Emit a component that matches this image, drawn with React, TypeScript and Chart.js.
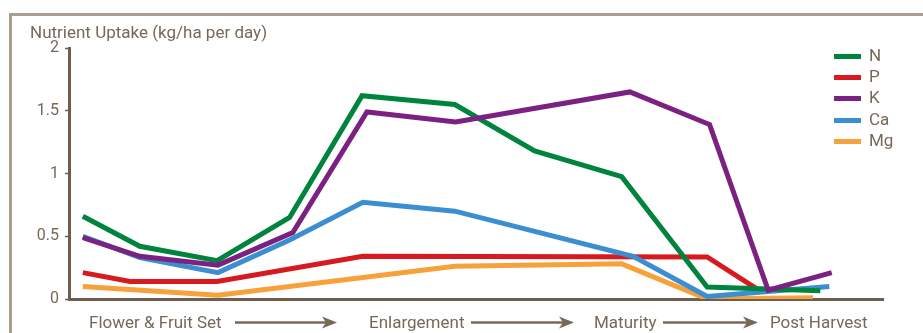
import React, { useEffect, useRef } from "react";
import { Chart, registerables } from "chart.js";

Chart.register(...registerables);

// x positions are in arbitrary "season progress" units (0-100 along the axis)
const nX = [1.7, 8.7, 18.2, 27.1, 36.0, 47.4, 57.2, 67.9, 78.4, 92.3];
const nY = [0.66, 0.42, 0.305, 0.65, 1.62, 1.55, 1.18, 0.975, 0.096, 0.066];

const pX = [1.7, 7.5, 18.2, 36.1, 78.4, 84.5];
const pY = [0.21, 0.14, 0.14, 0.34, 0.335, 0.08];

const kX = [1.7, 8.7, 18.3, 27.5, 36.6, 47.5, 68.9, 78.7, 85.9, 93.7];
const kY = [0.49, 0.34, 0.27, 0.53, 1.49, 1.41, 1.65, 1.39, 0.07, 0.21];

const caX = [1.7, 8.7, 18.3, 27.1, 36.1, 47.4, 69.3, 78.4, 93.4];
const caY = [0.5, 0.33, 0.21, 0.47, 0.77, 0.7, 0.34, 0.02, 0.1];

const mgX = [1.7, 18.3, 47.4, 67.9, 78.4, 91.4];
const mgY = [0.1, 0.03, 0.26, 0.28, 0.0, 0.01];

const seriesNames = ["N", "P", "K", "Ca", "Mg"];
const seriesColors = ["#00843D", "#D71920", "#7B2181", "#3B8ED0", "#F7A13A"];
const seriesOrder = [1, 3, 0, 2, 4];
const seriesX = [nX, pX, kX, caX, mgX];
const seriesY = [nY, pY, kY, caY, mgY];

const yTicks = [0, 0.5, 1, 1.5, 2];
const yTickLabels = ["0", "0.5", "1", "1.5", "2"];
const yTitle = "Nutrient Uptake (kg/ha per day)";
const stageLabels = ["Flower & Fruit Set", "Enlargement", "Maturity", "Post Harvest"];

const TEXT = "#786858";
const AXIS = "#6f5e4f";
const FRAME = "#ab9d8f";
const FONT = "Roboto, 'Open Sans', sans-serif";

// layout of the decorative stage row
const stageLeft = [89, 369, 594, 770];
const arrows = [
  [235, 337],
  [471, 574],
  [663, 758],
];

const Arrow = ({ x1, x2, y }: { x1: number; x2: number; y: number }) => (
  <g>
    <line x1={x1} y1={y} x2={x2 - 8} y2={y} stroke={TEXT} strokeWidth={2.5} />
    <path
      d={`M ${x2} ${y} L ${x2 - 15} ${y - 6} L ${x2 - 11} ${y} L ${x2 - 15} ${y + 6} Z`}
      fill={TEXT}
    />
  </g>
);

export default function App() {
  const ref = useRef<HTMLCanvasElement | null>(null);

  useEffect(() => {
    if (!ref.current) return;
    const chart = new Chart(ref.current, {
      type: "line",
      data: {
        datasets: seriesNames.map((name, i) => ({
          label: name,
          data: seriesX[i].map((x, j) => ({ x, y: seriesY[i][j] })),
          borderColor: seriesColors[i],
          backgroundColor: seriesColors[i],
          borderWidth: 5,
          pointRadius: 0,
          tension: 0,
          fill: false,
          order: seriesOrder[i],
        })),
      },
      options: {
        animation: false,
        responsive: false,
        maintainAspectRatio: false,
        layout: { padding: { left: 0, right: 40, top: 48, bottom: 0 } },
        plugins: { legend: { display: false }, tooltip: { enabled: false } },
        scales: {
          x: {
            type: "linear",
            min: 0,
            max: 100,
            ticks: { display: false },
            grid: { display: true, drawOnChartArea: false, drawTicks: false },
            border: { display: true, color: AXIS, width: 3 },
            afterFit: (s: any) => {
              s.height = 34;
            },
          },
          y: {
            type: "linear",
            min: 0,
            max: 2,
            afterBuildTicks: (s: any) => {
              s.ticks = yTicks.map((v) => ({ value: v }));
            },
            ticks: {
              color: TEXT,
              font: { family: FONT, size: 16 },
              padding: 6,
              callback: (v: any) => {
                const idx = yTicks.indexOf(Number(v));
                return idx >= 0 ? yTickLabels[idx] : String(v);
              },
            },
            grid: {
              display: true,
              drawOnChartArea: false,
              drawTicks: true,
              tickLength: 4,
              tickWidth: 1.5,
              tickColor: AXIS,
            },
            border: { display: true, color: AXIS, width: 3 },
            afterFit: (s: any) => {
              s.width = 69;
            },
          },
        },
      },
    });
    return () => chart.destroy();
  }, []);

  const textStyle = (left: number, top: number): React.CSSProperties => ({
    position: "absolute",
    left,
    top,
    fontSize: 17,
    lineHeight: "17px",
    color: TEXT,
    whiteSpace: "nowrap",
  });

  return (
    <div
      style={{
        position: "fixed",
        left: 0,
        top: 0,
        width: 923,
        height: 333,
        background: "#fff",
        overflow: "hidden",
        fontFamily: FONT,
      }}
    >
      <canvas ref={ref} width={923} height={333} style={{ position: "absolute", left: 0, top: 0 }} />
      {/* frame */}
      <div style={{ position: "absolute", left: 9, top: 13, width: 914, height: 3, background: FRAME }} />
      <div style={{ position: "absolute", left: 9, top: 13, width: 3, height: 320, background: FRAME }} />
      {/* title */}
      <div style={textStyle(30, 23.5)}>{yTitle}</div>
      {/* legend */}
      {seriesNames.map((name, i) => (
        <div key={name}>
          <div
            style={{
              position: "absolute",
              left: 834,
              top: 53.5 + i * 21.4,
              width: 27,
              height: 5,
              background: seriesColors[i],
            }}
          />
          <div style={textStyle(869, 46.5 + i * 21.4)}>{name}</div>
        </div>
      ))}
      {/* stages */}
      {stageLabels.map((s, i) => (
        <div key={s} style={textStyle(stageLeft[i], 314)}>
          {s}
        </div>
      ))}
      <svg width={923} height={333} style={{ position: "absolute", left: 0, top: 0 }}>
        {arrows.map(([a, b], i) => (
          <Arrow key={i} x1={a} x2={b} y={322.5} />
        ))}
      </svg>
    </div>
  );
}
